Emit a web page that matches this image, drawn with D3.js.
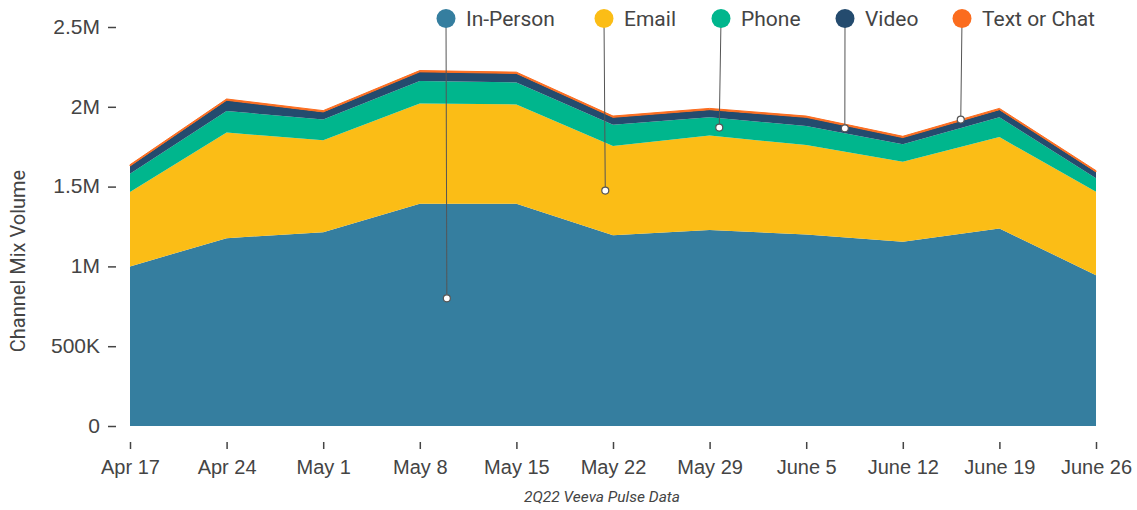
<!DOCTYPE html>
<html>
<head>
<meta charset="utf-8">
<script src="https://cdn.jsdelivr.net/npm/d3@7"></script>
<style>
  body { margin: 0; background: #fff; }
  svg { font-family: Roboto, "Noto Sans", sans-serif; }
  .tick text { fill: #444; }
</style>
</head>
<body>
<svg width="1137" height="510"></svg>
<script>
// week labels
var weeks = ["Apr 17", "Apr 24", "May 1", "May 8", "May 15", "May 22", "May 29", "June 5", "June 12", "June 19", "June 26"];

// series values (volume per week)
var inPerson   = [1000000, 1177000, 1214000, 1393000, 1393000, 1195000, 1228000, 1200000, 1155000, 1238000, 945000];
var email      = [466000, 662000, 576000, 628000, 622000, 560000, 592000, 560000, 500000, 572000, 522000];
var phone      = [115000, 135000, 130000, 140000, 138000, 132000, 114000, 120000, 110000, 124000, 85000];
var video      = [48000, 67000, 48000, 58000, 56000, 47000, 48000, 54000, 42000, 48000, 40000];
var textOrChat = [8000, 8000, 8000, 8000, 8000, 8000, 8000, 8000, 8000, 8000, 8000];

var seriesNames = ["In-Person", "Email", "Phone", "Video", "Text or Chat"];
var colors = ["#357e9f", "#fbbd16", "#00b68d", "#244b6e", "#fb6c1e"];
var yTicks = [0, 500000, 1000000, 1500000, 2000000, 2500000];
var yTickLabels = ["0", "500K", "1M", "1.5M", "2M", "2.5M"];

// legend leader anchors: fractional week index and value where each line lands
var anchorIndex = [3.28, 4.92, 6.1, 7.4, 8.6];
var anchorValue = [800000, 1475000, 1870000, 1865000, 1920000];
var legendX = [446, 604, 721, 845, 962];

var svg = d3.select("svg"),
    margin = {top: 27, right: 41, bottom: 84, left: 130},
    width = 1137 - margin.left - margin.right,
    height = 510 - margin.top - margin.bottom,
    g = svg.append("g").attr("transform", "translate(" + margin.left + "," + margin.top + ")");

// build table for stacking
var table = weeks.map(function(w, i) {
  return {week: i, "In-Person": inPerson[i], "Email": email[i], "Phone": phone[i],
          "Video": video[i], "Text or Chat": textOrChat[i]};
});

var x = d3.scaleLinear().domain([0, weeks.length - 1]).range([0, width]),
    y = d3.scaleLinear().domain([0, 2500000]).range([height, 0]);

var stack = d3.stack().keys(seriesNames);
var layers = stack(table);

var area = d3.area()
    .x(function(d) { return x(d.data.week); })
    .y0(function(d) { return y(d[0]); })
    .y1(function(d) { return y(d[1]); });

g.selectAll(".layer")
  .data(layers)
  .enter().append("path")
    .attr("class", "layer")
    .attr("d", area)
    .attr("fill", function(d, i) { return colors[i]; })
    .attr("stroke", function(d, i) { return i == 4 ? colors[i] : "none"; })
    .attr("stroke-width", 1);

// y axis: only ticks and labels
var yAxis = g.append("g")
    .attr("transform", "translate(-14,0)")
    .call(d3.axisLeft(y).tickValues(yTicks)
      .tickFormat(function(d, i) { return yTickLabels[i]; })
      .tickSize(8).tickPadding(8));
yAxis.select(".domain").remove();
yAxis.selectAll(".tick line").attr("stroke", "#444").attr("stroke-width", 1.5);
yAxis.selectAll(".tick text").attr("font-size", "21px").attr("dy", "0.3em");

// x axis: small vertical ticks and labels
var xAxis = g.append("g")
    .attr("transform", "translate(0," + (height + 16) + ")")
    .call(d3.axisBottom(x).tickValues(d3.range(weeks.length))
      .tickFormat(function(d) { return weeks[d]; })
      .tickSize(7).tickPadding(11));
xAxis.select(".domain").remove();
xAxis.selectAll(".tick line").attr("stroke", "#444").attr("stroke-width", 1.5);
xAxis.selectAll(".tick text").attr("font-size", "20px");

// axis titles
svg.append("text")
    .attr("transform", "translate(25,261) rotate(-90)")
    .attr("text-anchor", "middle")
    .attr("font-size", "20px")
    .attr("fill", "#444")
    .text("Channel Mix Volume");

svg.append("text")
    .attr("x", 602)
    .attr("y", 502)
    .attr("text-anchor", "middle")
    .attr("font-size", "15.5px")
    .attr("font-style", "italic")
    .attr("fill", "#444")
    .text("2Q22 Veeva Pulse Data");

// legend with leader lines into the areas
var legend = svg.selectAll(".legend")
  .data(seriesNames)
  .enter().append("g")
    .attr("class", "legend");

legend.append("line")
    .attr("x1", function(d, i) { return legendX[i]; })
    .attr("x2", function(d, i) { return margin.left + x(anchorIndex[i]); })
    .attr("y1", 19)
    .attr("y2", function(d, i) { return margin.top + y(anchorValue[i]); })
    .attr("stroke", "#555")
    .attr("stroke-width", 1);

legend.append("circle")
    .attr("cx", function(d, i) { return margin.left + x(anchorIndex[i]); })
    .attr("cy", function(d, i) { return margin.top + y(anchorValue[i]); })
    .attr("r", 3.5)
    .attr("fill", "#fff")
    .attr("stroke", "#555")
    .attr("stroke-width", 1.2);

legend.append("circle")
    .attr("cx", function(d, i) { return legendX[i]; })
    .attr("cy", 18.5)
    .attr("r", 9.5)
    .attr("fill", function(d, i) { return colors[i]; });

legend.append("text")
    .attr("x", function(d, i) { return legendX[i] + 20; })
    .attr("y", 19)
    .attr("dy", "0.35em")
    .attr("font-size", "21px")
    .attr("fill", "#444")
    .text(function(d) { return d; });
</script>
</body>
</html>
